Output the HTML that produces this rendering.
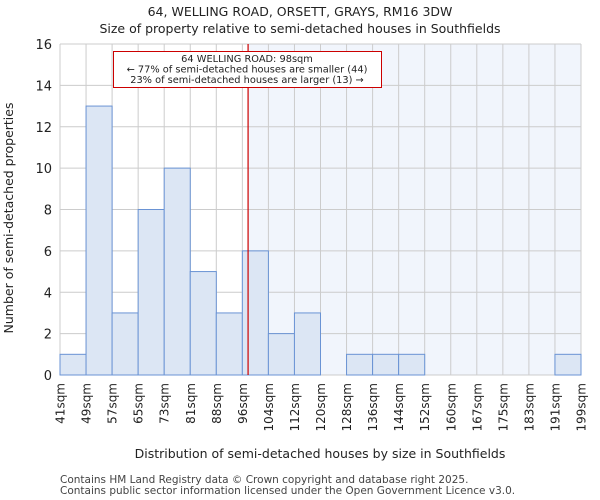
<!DOCTYPE html>
<html><head><meta charset="utf-8"><style>
body{margin:0;background:#fff}
svg{display:block;font-family:"DejaVu Sans","Liberation Sans",sans-serif}
</style></head><body>
<svg id="chart" width="600" height="500" viewBox="0 0 600 500">
<text x="300" y="16" text-anchor="middle" font-size="12.5" fill="#222">64, WELLING ROAD, ORSETT, GRAYS, RM16 3DW</text>
<text x="300" y="33" text-anchor="middle" font-size="12.5" fill="#222">Size of property relative to semi-detached houses in Southfields</text>
<g id="plot"></g>
<text x="320" y="458" text-anchor="middle" font-size="12.5" fill="#222">Distribution of semi-detached houses by size in Southfields</text>
<text transform="translate(13,218) rotate(-90)" text-anchor="middle" font-size="12.5" fill="#222">Number of semi-detached properties</text>
<text x="60" y="483" font-size="10.5" fill="#444">Contains HM Land Registry data © Crown copyright and database right 2025.</text>
<text x="60" y="494" font-size="10.5" fill="#444">Contains public sector information licensed under the Open Government Licence v3.0.</text>
</svg>
<script>
const binLabels=["41sqm","49sqm","57sqm","65sqm","73sqm","81sqm","88sqm","96sqm","104sqm","112sqm","120sqm","128sqm","136sqm","144sqm","152sqm","160sqm","167sqm","175sqm","183sqm","191sqm","199sqm"];
const counts=[1,13,3,8,10,5,3,6,2,3,0,1,1,1,0,0,0,0,0,1];
const yTicks=[0,2,4,6,8,10,12,14,16];
const propertyBin=7.22;
const NS="http://www.w3.org/2000/svg";
const g=document.getElementById("plot");
const L=60,R=581,T=44,B=375,yMax=16,n=counts.length;
const x=i=>L+(R-L)*i/n;
const y=v=>B-(B-T)*v/yMax;
function mk(t,a){const e=document.createElementNS(NS,t);for(const k in a)e.setAttribute(k,a[k]);g.appendChild(e);return e;}
const px=x(propertyBin);
let e=mk("rect",{x:px,y:T,width:R-px,height:B-T,fill:"#f1f5fc"});


for(let i=0;i<=n;i++){e=mk("line",{x1:x(i),x2:x(i),y1:T,y2:B,stroke:"#cccccc","stroke-width":1});

}
yTicks.forEach(v=>{e=mk("line",{x1:L,x2:R,y1:y(v),y2:y(v),stroke:"#cccccc","stroke-width":1});


const t=mk("text",{x:L-8,y:y(v)+5,"text-anchor":"end","font-size":"13",fill:"#222"});t.textContent=v;

});
counts.forEach((c,i)=>{if(c<=0)return;e=mk("rect",{x:x(i),y:y(c),width:x(i+1)-x(i),height:B-y(c),fill:"#dce6f4",stroke:"#6a93d4","stroke-width":1});

});
binLabels.forEach((l,i)=>{const t=mk("text",{transform:`translate(${x(i)+4.5},${B+8}) rotate(-90)`,"text-anchor":"end","font-size":"12",fill:"#222"});t.textContent=l;

});
e=mk("line",{x1:px,x2:px,y1:T,y2:B,stroke:"#cc0000","stroke-width":1.2});


e=mk("rect",{x:113.5,y:51.5,width:268,height:36,fill:"#fff",stroke:"#cc0000","stroke-width":1});


["64 WELLING ROAD: 98sqm","← 77% of semi-detached houses are smaller (44)","23% of semi-detached houses are larger (13) →"].forEach((s,i)=>{const t=mk("text",{x:247,y:62+i*10.5,"text-anchor":"middle","font-size":"9.8",fill:"#222"});t.textContent=s;

});
</script>
</body></html>
